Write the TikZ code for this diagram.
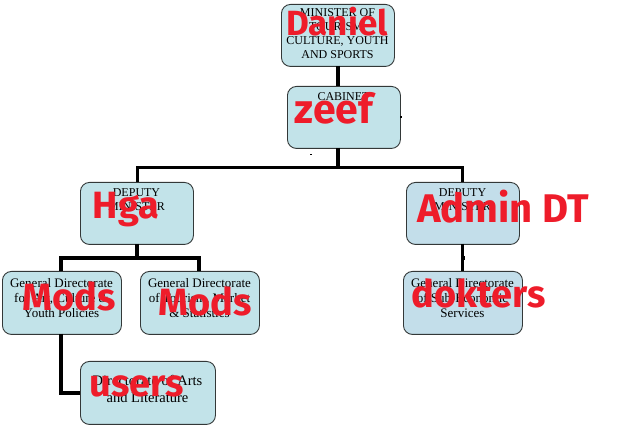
\documentclass[tikz,border=0pt]{standalone}
\usepackage{fontspec}
\setmainfont{Liberation Serif}
\newfontfamily\markerfont{Fira Sans}[BoldFont={Fira Sans Bold}]
\definecolor{boxfill}{HTML}{C2E3E9}
\definecolor{boxfillb}{HTML}{C3DEEA}
\definecolor{boxline}{HTML}{333838}
\definecolor{inkred}{HTML}{EE1C2A}
\tikzset{
  orgbox/.style={draw=boxline,line width=0.9pt,fill=boxfill,rounded corners=9pt,inner sep=0pt,anchor=north west},
  orgtext/.style={font=\fontsize{12}{14}\selectfont,align=center,anchor=north,inner sep=0pt,text=black},
  gdtext/.style={orgtext,font=\fontsize{13}{15}\selectfont},
  arttext/.style={orgtext,font=\fontsize{14.5}{17}\selectfont},
  link/.style={line width=3.4pt,black,line cap=butt,line join=miter},
  scrawl/.style={font=\markerfont\bfseries\fontsize{38}{38}\selectfont,text=inkred,inner sep=0pt,anchor=base}
}
\begin{document}
\begin{tikzpicture}[x=1pt,y=-1pt]
\useasboundingbox (0,0) rectangle (630,430);
\node[orgbox,minimum width=113pt,minimum height=62pt] (min) at (281,4) {};
\node[orgbox,minimum width=113pt,minimum height=62pt] (cab) at (287,86) {};
\node[orgbox,minimum width=113pt,minimum height=62pt] (depl) at (80,182) {};
\node[orgbox,minimum width=113pt,minimum height=62pt,fill=boxfillb] (depr) at (406,182) {};
\node[orgbox,minimum width=119pt,minimum height=63pt] (gda) at (2,271) {};
\node[orgbox,minimum width=119pt,minimum height=63pt] (gdb) at (140,271) {};
\node[orgbox,minimum width=119pt,minimum height=63pt,fill=boxfillb] (gdc) at (403,271) {};
\node[orgbox,minimum width=135pt,minimum height=63pt] (art) at (80,361) {};
\coordinate (busa) at (338,168);
\coordinate (busb) at (137,258);
\draw[link] (338,66) -- (338,86);
\draw[link] (338,148) -- (busa);
\draw[link,line width=3pt] (137,182) |- (busa) -| (462,182);
\draw[link] (137,244) -- (busb);
\draw[link] (61,271) |- (busb) -| (199,271);
\draw[link] (61,334) |- (art.west);
\draw[link,line width=3pt] (462,244) -- (462,271);
\fill[black] (460.5,256) rectangle (464.5,260);
\fill[black] (400,116) rectangle (402,118.5);
\fill[black] (310,154.5) rectangle (312,155.5);
% labels
\node[orgtext] (tmin) at (337.5,8) {MINISTER OF\\TOURISM,\\CULTURE, YOUTH\\AND SPORTS};
\node[orgtext] (tcab) at (343.5,92) {CABINET};
\node[orgtext] (tdepl) at (136.5,188) {DEPUTY\\MINISTER};
\node[orgtext] (tdepr) at (462.5,188) {DEPUTY\\MINISTER};
\node[gdtext] (tgda) at (61.5,278) {General Directorate\\for Art, Culture \&\\Youth Policies};
\node[gdtext] (tgdb) at (199.5,278) {General Directorate\\of Tourism, Market\\\& Statistics};
\node[gdtext] (tgdc) at (462.5,278) {General Directorate\\of Sub-Economic\\Services};
\node[arttext] (tart) at (147.5,375) {Directorate of Arts\\and Literature};
% red handwriting
\node[scrawl,font=\markerfont\bfseries\fontsize{35}{35}\selectfont] (sa) at (337,36) {Daniel};
\node[scrawl,font=\markerfont\bfseries\fontsize{41}{41}\selectfont] (sb) at (334,124) {zeef};
\node[scrawl] (sc) at (126,219) {Hga};
\node[scrawl,font=\markerfont\bfseries\fontsize{40}{40}\selectfont] (sd) at (503,223) {Admin DT};
\node[scrawl] (se) at (69,311) {Mods};
\node[scrawl] (sf) at (205,316) {Mods};
\node[scrawl] (sg) at (479,308) {dokters};
\node[scrawl] (sh) at (137,397) {users};
\end{tikzpicture}
\end{document}
